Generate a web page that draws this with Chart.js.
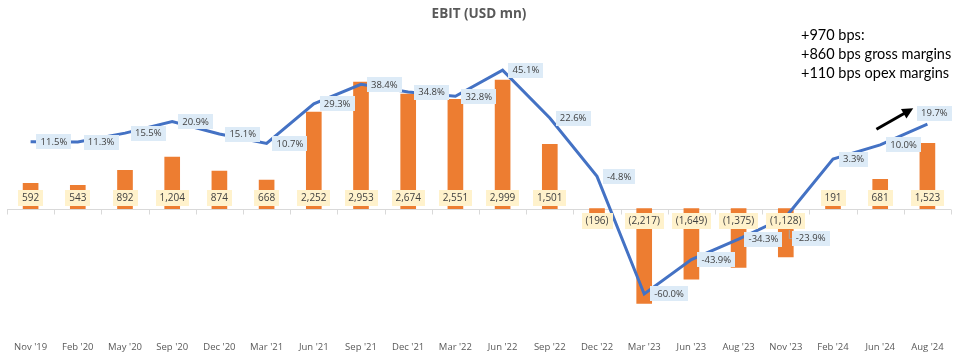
<!DOCTYPE html>
<html>
<head>
<meta charset="utf-8">
<script src="https://cdn.jsdelivr.net/npm/chart.js@4.4.1/dist/chart.umd.min.js"></script>
<style>
    html, body { margin: 0; padding: 0; background: #fff; }
    #wrap { width: 965px; height: 358px; position: relative; }
</style>
</head>
<body>
<div id="wrap"><canvas id="ebit-chart"></canvas></div>
<script>
// Datos del gráfico
var periods = ["Nov '19", "Feb '20", "May '20", "Sep '20", "Dec '20", "Mar '21", "Jun '21", "Sep '21", "Dec '21", "Mar '22",
               "Jun '22", "Sep '22", "Dec '22", "Mar '23", "Jun '23", "Aug '23", "Nov '23", "Feb '24", "Jun '24", "Aug '24"];
var ebitValues = [592, 543, 892, 1204, 874, 668, 2252, 2953, 2674, 2551,
                  2999, 1501, -196, -2217, -1649, -1375, -1128, 191, 681, 1523];
var ebitMargin = [11.5, 11.3, 15.5, 20.9, 15.1, 10.7, 29.3, 38.4, 34.8, 32.8,
                  45.1, 22.6, -4.8, -60.0, -43.9, -34.3, -23.9, 3.3, 10.0, 19.7];
var noteLines = ['+970 bps:', '+860 bps gross margins', '+110 bps opex margins'];

function fmtEbit(v) {
    var s = Math.abs(v).toLocaleString('en-US');
    return v < 0 ? '(' + s + ')' : s;
}

function drawTag(ctx, text, cx, cy, bg, h) {
    var w = Math.round(ctx.measureText(text).width + 8);
    ctx.fillStyle = bg;
    ctx.fillRect(Math.round(cx - w / 2), Math.round(cy - h / 2), w, h);
    ctx.fillStyle = '#404040';
    ctx.fillText(text, cx, cy + 0.5);
    return w;
}

// Eje en cero con marcas entre categorías
var zeroAxis = {
    id: 'zeroAxis',
    beforeDatasetsDraw: function (chart) {
        var ctx = chart.ctx;
        var x = chart.scales.x;
        var y0 = Math.round(chart.scales.yBar.getPixelForValue(0)) + 0.5;
        ctx.save();
        ctx.strokeStyle = '#D9D9D9';
        ctx.lineWidth = 1;
        ctx.beginPath();
        ctx.moveTo(chart.chartArea.left, y0);
        ctx.lineTo(chart.chartArea.right, y0);
        for (var i = 0; i <= periods.length; i++) {
            var px = Math.round(x.getPixelForValue(i - 0.5)) + 0.5;
            ctx.moveTo(px, y0);
            ctx.lineTo(px, y0 + 5);
        }
        ctx.stroke();
        ctx.restore();
    }
};

// Etiquetas, flecha y nota
var labelsPlugin = {
    id: 'labels',
    afterDatasetsDraw: function (chart) {
        var ctx = chart.ctx;
        var y0 = chart.scales.yBar.getPixelForValue(0);
        ctx.save();
        ctx.textAlign = 'center';
        ctx.textBaseline = 'middle';

        // etiquetas de barras
        ctx.font = '10px "Open Sans"';
        chart.getDatasetMeta(1).data.forEach(function (bar, i) {
            var v = ebitValues[i];
            drawTag(ctx, fmtEbit(v), bar.x, v >= 0 ? y0 - 11 : y0 + 12.5, '#FFF2CC', 16);
        });

        // etiquetas de la línea
        ctx.font = '9.5px "Open Sans"';
        chart.getDatasetMeta(0).data.forEach(function (pt, i) {
            var txt = ebitMargin[i].toFixed(1) + '%';
            var w = ctx.measureText(txt).width + 8;
            var cx = pt.x + 6 + w / 2, cy = pt.y;
            if (i === periods.length - 1) { cx = pt.x + 7; cy = pt.y - 11; }
            if (i === 16) {
                cy = pt.y + 21;
                ctx.strokeStyle = '#A6A6A6';
                ctx.lineWidth = 1;
                ctx.beginPath();
                ctx.moveTo(pt.x + 3.5, pt.y + 13);
                ctx.lineTo(pt.x + 3.5, cy + 0.5);
                ctx.lineTo(pt.x + 6, cy + 0.5);
                ctx.stroke();
            }
            drawTag(ctx, txt, cx, cy, '#DDEBF7', 15);
        });

        // flecha
        var x = chart.scales.x, yl = chart.scales.yLine;
        var x1 = x.getPixelForValue(17.92), y1 = yl.getPixelForValue(17.3);
        var x2 = x.getPixelForValue(18.70), y2 = yl.getPixelForValue(27.2);
        var ang = Math.atan2(y2 - y1, x2 - x1);
        ctx.strokeStyle = '#000';
        ctx.fillStyle = '#000';
        ctx.lineWidth = 3;
        ctx.beginPath();
        ctx.moveTo(x1, y1);
        ctx.lineTo(x2 - 8 * Math.cos(ang), y2 - 8 * Math.sin(ang));
        ctx.stroke();
        ctx.beginPath();
        ctx.moveTo(x2, y2);
        ctx.lineTo(x2 - 11 * Math.cos(ang) + 5.5 * Math.sin(ang), y2 - 11 * Math.sin(ang) - 5.5 * Math.cos(ang));
        ctx.lineTo(x2 - 11 * Math.cos(ang) - 5.5 * Math.sin(ang), y2 - 11 * Math.sin(ang) + 5.5 * Math.cos(ang));
        ctx.closePath();
        ctx.fill();

        // nota
        ctx.font = '14.5px Lato';
        ctx.textAlign = 'left';
        ctx.fillStyle = '#000';
        noteLines.forEach(function (line, i) {
            ctx.fillText(line, chart.chartArea.right - 150, 35 + i * 19.4);
        });
        ctx.restore();
    }
};

var ebitChart = new Chart(document.getElementById('ebit-chart'), {
    type: 'bar',
    data: {
        labels: periods,
        datasets: [
            {
                type: 'line',
                label: 'EBIT margin',
                data: ebitMargin,
                borderColor: '#4472C4',
                borderWidth: 3,
                pointRadius: 0,
                tension: 0,
                yAxisID: 'yLine',
                order: 0
            },
            {
                label: 'EBIT',
                data: ebitValues,
                backgroundColor: '#ED7D31',
                barThickness: 15,
                yAxisID: 'yBar',
                order: 1
            }
        ]
    },
    options: {
        responsive: true,
        maintainAspectRatio: false,
        animation: false,
        layout: { padding: { left: 7, right: 14, top: 0, bottom: 1 } },
        plugins: {
            legend: { display: false },
            tooltip: { enabled: false },
            title: {
                display: true,
                text: 'EBIT (USD mn)',
                color: '#595959',
                font: { family: '"Open Sans"', size: 13.5, weight: 'bold' },
                padding: { top: 6, bottom: 10 }
            }
        },
        scales: {
            x: {
                grid: { display: false, drawTicks: false },
                border: { display: false },
                ticks: { color: '#595959', font: { family: '"Open Sans"', size: 9.5 }, padding: 4, maxRotation: 0, autoSkip: false }
            },
            yBar: { display: false, min: -3013, max: 4120 },
            yLine: { display: false, min: -80.5, max: 62.9 }
        }
    },
    plugins: [zeroAxis, labelsPlugin]
});
</script>
</body>
</html>
